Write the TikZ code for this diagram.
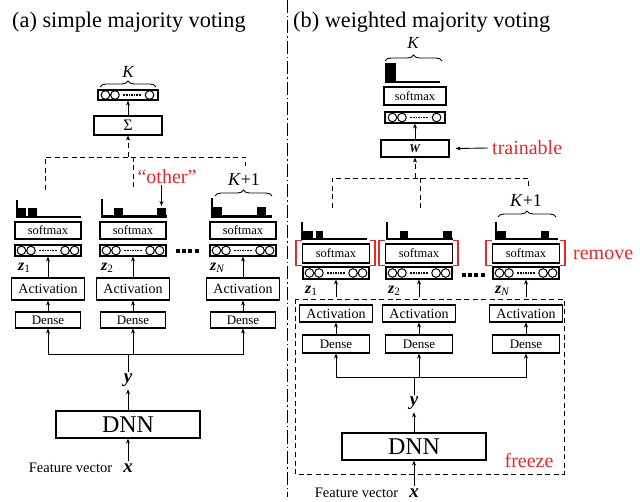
\documentclass[tikz,border=0pt]{standalone}
\usepackage{fontspec}
\setmainfont{Liberation Serif}
\usetikzlibrary{arrows.meta,decorations.pathreplacing,calc}
\definecolor{rd}{RGB}{232,40,40}
\newcommand{\fs}[1]{\fontsize{#1}{#1}\selectfont}
\newcommand{\mycircrow}[1]{%
  \draw[line width=1pt] ([xshift=7pt]#1.west) circle (4.3pt) ([xshift=16.5pt]#1.west) circle (4.3pt)
     ([xshift=-16.5pt]#1.east) circle (4.3pt) ([xshift=-7pt]#1.east) circle (4.3pt);
  \draw[dotl] ([xshift=25pt]#1.west) -- ([xshift=-24pt]#1.east);}
\newcommand{\mycirctop}[1]{%
  \draw[line width=1pt] ([xshift=8pt]#1.west) circle (4.3pt) ([xshift=17.5pt]#1.west) circle (4.3pt)
     ([xshift=-9pt]#1.east) circle (4.3pt);
  \draw[dotl] ([xshift=26pt]#1.west) -- ([xshift=-17pt]#1.east);}
\newcommand{\myhist}[9]{%
  \fill (#5,#9) rectangle (#6,#3); \fill (#7,#9) rectangle (#8,#3);
  \draw[hl] (#1,#2) -- (#1,#3) -- (#4,#3);}
\begin{document}
\begin{tikzpicture}[x=1pt,y=-1pt,
  bx/.style={draw,line width=1.1pt,inner sep=0pt},
  smx/.style={bx,minimum height=17pt,font=\fs{12.5}},
  cbx/.style={bx,minimum height=11pt},
  acx/.style={bx,minimum height=22pt,font=\fs{14}},
  dnx/.style={bx,minimum height=16pt,font=\fs{13}},
  arr/.style={-{Stealth[length=5pt,width=4pt]},line width=0.9pt},
  dsh/.style={line width=0.9pt,dash pattern=on 5pt off 3.5pt},
  darr/.style={arr,dsh},
  hl/.style={line width=2.2pt},
  dotl/.style={line width=1.8pt,dash pattern=on 1.6pt off 1pt},
  bigdots/.style={line width=4pt,dash pattern=on 4pt off 2.2pt},
  brc/.style={decorate,decoration={brace,amplitude=6pt},line width=0.9pt},
  brk/.style={draw=rd,line width=1.5pt},
  lbl/.style={inner sep=1pt},
  ]
\useasboundingbox (0,0) rectangle (640,502);
% divider
\draw[line width=1pt,dash pattern=on 13pt off 3pt on 1.5pt off 3pt] (287,0) -- (287,497);
% titles
\node[anchor=base west,inner sep=0pt,font=\fs{22.3}] (ta) at (12,28) {(a) simple majority voting};
\node[anchor=base west,inner sep=0pt,font=\fs{22.3}] (tb) at (293,28) {(b) weighted majority voting};

% ================= (a) =================
\node[cbx,minimum width=60pt,minimum height=10pt] (topca) at (128,95) {};
\mycirctop{topca}
\draw[brc] (100,87) -- (156,87);
\node[lbl,font=\fs{17}\itshape] (ka) at (128,72) {K};
\node[bx,minimum width=68pt,minimum height=19pt,font=\fs{16}] (sig) at (128,125.5) {Σ};
\draw[arr] (sig.north) -- (topca.south);
\coordinate (dmida) at (128,157);
\draw[darr] (dmida) -- (sig.south);
\draw[dsh] (45,190) -- (45,157) -- (245,157) -- (245,166);
\draw[dsh] (133,157) -- (133,190);
\node[lbl,font=\fs{20},text=rd] (oth) at (167,177) {“other”};
\coordinate (obar) at (161.5,206);
\draw[arr] (oth.south -| obar) -- (obar);
% histograms
\myhist{17}{200}{217}{81}{17}{26}{28}{37}{208}
\myhist{102}{199}{216.5}{167}{114}{123}{157}{166}{208}
\myhist{212}{198}{216.5}{272}{212}{222}{257}{266}{207}
\draw[brc] (215,196) -- (272,196);
\node[lbl,font=\fs{18}] (kpa) at (244,180) {\textit{K}+1};
% columns
\foreach \i/\x in {1/48,2/133,3/243}{
  \node[smx,minimum width=66pt] (sma\i) at (\x,230.5) {softmax};
  \node[cbx,minimum width=66pt] (cba\i) at (\x,250.5) {};
  \mycircrow{cba\i}
  \node[acx,minimum width=73pt] (aca\i) at (\x,289) {Activation};
  \node[dnx,minimum width=65pt] (dna\i) at (\x,320) {Dense};
  \draw[arr] (aca\i.north) -- (cba\i.south);
  \draw[arr] (dna\i.north) -- (aca\i.south);
}
\draw[bigdots] (176,251) -- (199,251);
\node[lbl,anchor=west,font=\fs{16}] (za1) at (17,268) {\textbf{\textit{z}}\textsubscript{1}};
\node[lbl,anchor=west,font=\fs{16}] (za2) at (100,268) {\textbf{\textit{z}}\textsubscript{2}};
\node[lbl,anchor=west,font=\fs{16}] (za3) at (209,268) {\textbf{\textit{z}}\textsubscript{\textit{N}}};
% bottom
\coordinate (busa) at (128,354);
\foreach \i in {1,2,3}{\draw[arr] (busa) -| (dna\i.south);}
\node[anchor=base,inner sep=2pt,font=\fs{19}] (ya) at (128,383) {\textbf{\textit{y}}};
\draw[line width=0.9pt] (ya.north) -- (busa);
\node[bx,minimum width=144pt,minimum height=27pt,font=\fs{24}] (dnna) at (128,424.5) {DNN};
\draw[arr] (dnna.north) -- (ya.south);
\node[anchor=base,inner sep=2pt,font=\fs{19}] (xa) at (128,472) {\textbf{\textit{x}}};
\node[anchor=base,inner sep=0pt,font=\fs{14.5}] (fva) at (70.5,472) {Feature vector};
\draw[arr] (xa.north) -- (dnna.south);

% ================= (b) =================
\fill (385,63) rectangle (396,82);
\draw[hl] (385,82) -- (440,82);
\draw[brc] (385,61) -- (442,61);
\node[lbl,font=\fs{17}\itshape] (kb) at (413,43) {K};
\node[smx,minimum width=62pt,minimum height=18pt] (smbt) at (415,96) {softmax};
\node[cbx,minimum width=60pt] (cbbt) at (415,117.5) {};
\mycirctop{cbbt}
\node[bx,minimum width=68pt,minimum height=17pt,font=\fs{12}] (wb) at (415,148.5) {\textbf{\textit{W}}};
\draw[arr] (wb.north) -- (cbbt.south);
\node[anchor=west,inner sep=2pt,font=\fs{20},text=rd] (trn) at (490,148) {trainable};
\draw[arr] ([xshift=-2pt]trn.west) -- ([xshift=6pt]wb.east);
\coordinate (dmidb) at (415,178);
\draw[darr] (dmidb) -- (wb.south);
\draw[dsh] (332,208) -- (332,178) -- (528,178) -- (528,188);
\draw[dsh] (420,178) -- (420,208);
\myhist{302}{222}{239}{367}{302}{313}{316}{323}{231}
\myhist{387}{222}{239}{453}{400}{408}{443}{452}{231}
\myhist{496}{222}{239}{558}{496}{506}{541}{549}{231}
\draw[brc] (498,217) -- (556,217);
\node[lbl,font=\fs{18}] (kpb) at (526,201) {\textit{K}+1};
\foreach \i/\x in {1/336,2/419,3/526}{
  \node[smx,minimum width=67pt,minimum height=19pt] (smb\i) at (\x,253.5) {softmax};
  \draw[brk] ([xshift=0pt,yshift=3pt]smb\i.north west) -- ++(-6pt,0pt) |- ([yshift=-2pt]smb\i.south west);
  \draw[brk] ([xshift=0pt,yshift=3pt]smb\i.north east) -- ++(5pt,0pt) |- ([yshift=-2pt]smb\i.south east);
  \node[cbx,minimum width=66pt,minimum height=12pt] (cbb\i) at (\x,273) {};
  \mycircrow{cbb\i}
  \node[acx,minimum width=73pt,minimum height=17pt] (acb\i) at (\x,313.5) {Activation};
  \node[dnx,minimum width=67pt,minimum height=18pt] (dnb\i) at (\x,344) {Dense};
  \draw[arr] ([yshift=7pt]acb\i.north) -- (cbb\i.south);
  \draw[arr] (dnb\i.north) -- (acb\i.south);
}
\node[anchor=west,inner sep=2pt,font=\fs{20},text=rd] (rmv) at (571,255) {remove};
\draw[bigdots] (462,275) -- (486,275);
\node[lbl,anchor=west,font=\fs{16}] (zb1) at (304,291) {\textbf{\textit{z}}\textsubscript{1}};
\node[lbl,anchor=west,font=\fs{16}] (zb2) at (387,291) {\textbf{\textit{z}}\textsubscript{2}};
\node[lbl,anchor=west,font=\fs{16}] (zb3) at (494,291) {\textbf{\textit{z}}\textsubscript{\textit{N}}};
\coordinate (busb) at (414,377);
\foreach \i in {1,2,3}{\draw[arr] (busb) -| (dnb\i.south);}
\node[anchor=base,inner sep=2pt,font=\fs{19}] (yb) at (414,406) {\textbf{\textit{y}}};
\draw[line width=0.9pt] (yb.north) -- (busb);
\node[bx,minimum width=144pt,minimum height=27pt,font=\fs{24}] (dnnb) at (414,446.5) {DNN};
\draw[arr] (dnnb.north) -- (yb.south);
\node[anchor=base,inner sep=2pt,font=\fs{19}] (xb) at (414,497) {\textbf{\textit{x}}};
\node[anchor=base,inner sep=0pt,font=\fs{14.5}] (fvb) at (356.5,497) {Feature vector};
\draw[arr] (xb.north) -- (dnnb.south);
\draw[dsh] (295,299) rectangle (564,474);
\node[lbl,font=\fs{20},text=rd] (frz) at (529,461) {freeze};
\end{tikzpicture}
\end{document}
